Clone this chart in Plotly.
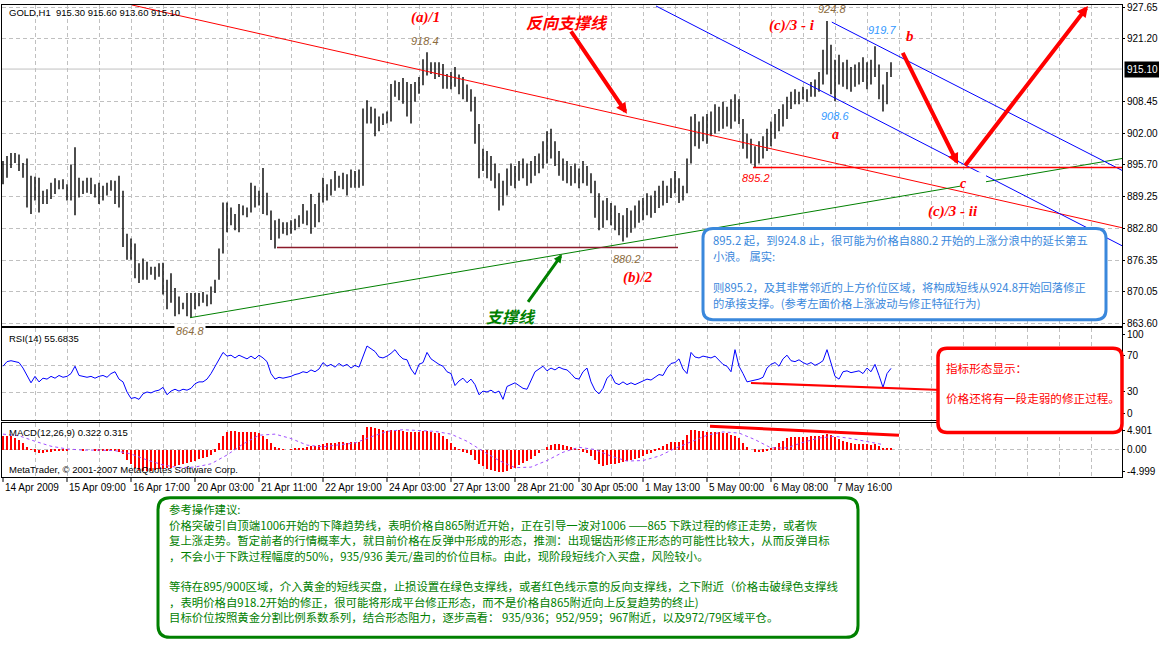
import plotly.graph_objects as go

W, H = 1159, 671

# ---------------- data ----------------
highs = [
    896.5, 897.5, 898.1, 898.1, 897.8, 896.1, 897.0, 893.5,
    893.3, 893.1, 890.5, 890.8, 892.1, 893.0, 892.6, 892.8,
    891.8, 895.8, 899.3, 893.1, 892.5, 893.1, 893.1, 891.8,
    892.1, 891.5, 892.1, 892.6, 892.5, 893.5, 890.5, 881.8,
    880.8, 879.8, 875.8, 876.8, 876.1, 875.1, 875.1, 875.8,
    875.9, 872.5, 873.8, 870.8, 869.1, 867.8, 869.8, 869.8,
    869.8, 869.8, 870.0, 869.5, 871.1, 872.5, 878.8, 888.1,
    888.1, 887.1, 885.8, 887.8, 887.5, 887.1, 892.1, 891.5,
    890.5, 895.1, 890.1, 886.5, 884.5, 884.8, 884.1, 884.1,
    884.5, 884.8, 885.5, 887.8, 886.5, 889.8, 887.8, 890.1,
    893.1, 891.8, 892.8, 894.5, 893.5, 894.1, 893.8, 894.8,
    894.5, 894.8, 907.1, 908.8, 907.5, 907.1, 905.5, 906.1,
    906.5, 912.1, 912.8, 912.5, 913.3, 912.5, 912.1, 912.5,
    913.5, 917.1, 918.5, 916.5, 916.5, 916.5, 916.1, 914.1,
    914.5, 915.5, 914.0, 913.5, 912.0, 911.0, 909.5, 904.0,
    899.0, 898.5, 897.5, 896.0, 894.0, 892.5, 895.0, 896.0,
    895.5, 896.5, 897.0, 896.0, 896.5, 897.5, 898.0, 900.5,
    902.5, 903.0, 900.5, 898.5, 897.0, 896.5, 895.5, 896.0,
    895.0, 896.5, 895.5, 894.0, 892.5, 890.0, 888.5, 889.0,
    888.0, 887.5, 886.0, 885.5, 887.0, 886.5, 887.5, 888.5,
    889.0, 890.0, 889.5, 890.5, 891.5, 892.5, 891.5, 893.0,
    894.5, 893.0, 891.5, 897.0, 905.5, 906.0, 904.5, 905.5,
    906.0, 906.5, 908.0, 907.5, 908.5, 907.5, 909.0, 910.0,
    909.0, 905.0, 902.0, 901.0, 899.5, 900.5, 901.5, 903.0,
    904.5, 906.0, 907.0, 908.0, 909.5, 910.5, 911.0, 910.5,
    911.5, 911.0, 912.5, 913.0, 914.5, 919.0, 924.8, 920.0,
    917.0, 918.0, 916.5, 917.0, 915.5, 916.0, 916.5, 917.5,
    916.5, 917.0, 919.7, 916.0, 912.0, 914.5, 916.5,
]
lows = [
    891.8, 893.1, 895.1, 896.1, 894.5, 893.1, 887.1, 885.8,
    888.5, 886.1, 887.8, 887.8, 888.8, 889.8, 890.8, 890.8,
    888.5, 888.5, 885.5, 889.1, 889.8, 890.1, 889.8, 889.1,
    887.8, 888.5, 889.5, 890.5, 887.8, 887.1, 879.1, 876.5,
    876.5, 872.8, 871.8, 872.5, 872.5, 873.5, 872.5, 873.1,
    869.5, 866.5, 867.8, 865.1, 865.5, 866.5, 865.1, 864.8,
    866.5, 867.1, 867.8, 867.1, 867.5, 869.8, 872.5, 877.8,
    882.1, 883.5, 882.5, 882.1, 885.5, 885.1, 886.1, 887.1,
    887.5, 885.8, 885.5, 880.5, 878.8, 880.8, 881.8, 881.5,
    881.8, 882.5, 883.1, 883.8, 883.5, 881.8, 883.1, 884.1,
    888.1, 888.5, 889.5, 890.5, 891.1, 890.8, 889.5, 891.1,
    891.1, 891.1, 891.5, 904.1, 904.1, 901.5, 902.5, 903.8,
    904.1, 904.5, 909.5, 908.8, 908.1, 905.5, 904.1, 908.5,
    910.1, 911.8, 913.8, 914.1, 913.1, 913.5, 911.1, 911.1,
    911.0, 911.5, 910.0, 909.0, 908.5, 906.5, 900.0, 893.0,
    894.5, 893.0, 892.5, 891.0, 886.5, 887.5, 889.5, 891.5,
    891.0, 892.5, 893.0, 891.5, 892.0, 893.5, 894.0, 895.0,
    896.0, 897.0, 895.5, 893.5, 892.5, 892.0, 891.5, 892.0,
    891.0, 892.0, 891.5, 890.0, 885.0, 882.5, 883.0, 884.5,
    883.5, 882.5, 881.5, 880.2, 881.0, 882.0, 883.0, 884.0,
    884.5, 885.5, 885.0, 886.0, 887.0, 887.5, 888.0, 889.0,
    890.0, 888.0, 888.5, 890.0, 896.0, 899.5, 899.0, 900.5,
    900.0, 901.5, 902.0, 902.5, 903.0, 903.5, 903.0, 904.5,
    904.0, 899.0, 897.0, 896.0, 895.2, 896.0, 897.0, 898.5,
    899.5, 901.0, 902.5, 903.5, 905.0, 907.0, 908.0, 908.0,
    909.0, 908.5, 909.5, 909.5, 910.5, 912.0, 914.0, 910.0,
    908.6, 912.0, 911.5, 911.0, 910.5, 911.5, 912.0, 912.5,
    911.0, 912.0, 913.5, 909.0, 906.5, 908.0, 913.5,
]
rsi = [
    58, 63, 64, 63, 62, 56, 48, 40,
    47, 41, 45, 44, 47, 45, 48, 46,
    47, 50, 58, 48, 47, 46, 47, 45,
    47, 48, 46, 50, 52, 44, 41, 30,
    23, 24, 22, 28, 30, 29, 31, 32,
    35, 27, 31, 33, 31, 33, 32, 34,
    39, 41, 41, 44, 50, 58, 65, 73,
    69, 70, 67, 70, 68, 66, 69, 66,
    70, 67, 63, 50, 44, 46, 45, 46,
    47, 49, 50, 52, 51, 54, 52, 55,
    62, 58, 60, 57, 61, 58, 60, 56,
    59, 57, 68, 80, 77, 74, 68, 67,
    69, 72, 76, 70, 66, 65, 55, 49,
    60, 62, 73, 66, 63, 60, 58, 52,
    50, 37, 42, 45, 40, 44, 38, 27,
    31, 30, 32, 29, 31, 22, 36, 38,
    40, 37, 34, 33, 42, 52, 55, 58,
    53, 56, 54, 57, 55, 54, 50, 45,
    44, 52, 56, 41, 32, 28, 34, 45,
    49, 40, 38, 41, 38, 40, 38, 40,
    42, 44, 43, 46, 49, 48, 56, 61,
    62, 66, 55, 50, 73, 68, 67, 69,
    68, 67, 69, 64, 60, 58, 52, 76,
    58, 50, 41, 42, 43, 44, 46, 56,
    60, 62, 58, 66, 70, 64, 63, 65,
    62, 60, 62, 59, 61, 64, 76, 60,
    47, 44, 52, 53, 51, 52, 53, 50,
    56, 52, 60, 48, 35, 50, 55.68,
]
macd_hist = [
    2.5, 2.6, 2.5, 2.2, 1.8, 1.3, 0.6, 0.1,
    -0.3, -0.5, -0.5, -0.4, -0.3, -0.2, -0.2, -0.1,
    -0.1, 0.0, 0.1, 0.0, -0.1, 0.0, 0.0, -0.1,
    -0.1, -0.1, -0.2, -0.2, -0.1, -0.3, -0.8, -1.8,
    -2.6, -3.2, -3.6, -3.8, -3.9, -3.8, -3.7, -3.5,
    -3.4, -3.3, -3.2, -3.0, -2.8, -2.6, -2.4, -2.2,
    -2.0, -1.7, -1.5, -1.2, -0.9, -0.3, 1.2, 2.6,
    3.2, 3.4, 3.4, 3.3, 3.3, 3.2, 3.3, 3.2,
    3.0, 2.6, 2.0, 1.2, 0.5, 0.2, 0.1, 0.0,
    0.1, 0.2, 0.3, 0.4, 0.6, 0.7, 0.8, 0.9,
    1.1, 1.2, 1.3, 1.3, 1.4, 1.4, 1.3, 1.4,
    1.4, 1.5, 2.8, 4.1, 4.2, 4.0, 3.8, 3.6,
    3.4, 3.6, 3.7, 3.6, 3.5, 3.3, 3.2, 3.2,
    3.3, 3.5, 3.4, 3.2, 3.1, 3.0, 2.6, 2.0,
    1.3, 0.6, 0.1, -0.3, -0.6, -1.0, -1.8, -2.6,
    -3.0, -3.4, -3.7, -3.9, -4.1, -4.0, -3.8, -3.5,
    -3.2, -2.8, -2.4, -2.0, -1.6, -1.1, -0.6, 0.0,
    0.5, 0.9, 1.1, 1.0, 0.9, 0.8, 0.6, 0.3,
    0.1, -0.3, -0.6, -1.1, -1.8, -2.5, -2.9, -2.8,
    -2.6, -2.5, -2.4, -2.2, -2.1, -1.9, -1.7, -1.4,
    -1.1, -0.8, -0.5, -0.2, 0.2, 0.7, 1.1, 1.4,
    1.5, 1.4, 1.8, 2.8, 3.6, 3.6, 3.5, 3.4,
    3.3, 3.3, 3.2, 3.2, 3.1, 3.0, 2.8, 2.6,
    2.1, 1.3, 0.6, 0.0, -0.3, -0.4, -0.3, -0.2,
    0.2, 0.6, 1.2, 1.7, 2.1, 2.3, 2.4, 2.4,
    2.3, 2.4, 2.5, 2.5, 2.6, 2.7, 2.9, 2.7,
    2.3, 2.0, 1.7, 1.4, 1.2, 1.0, 1.0, 1.1,
    1.0, 0.9, 1.0, 0.7, 0.4, 0.3, 0.3,
]
# signal line sampled every 4 bars
macd_signal = [
    2.8, 2.5, 1.5, 0.6, 0.1, -0.1, -0.1, -0.2,
    -0.8, -1.9, -2.8, -3.3, -3.2, -2.6, -1.0, 1.0,
    2.6, 2.8, 2.0, 0.8, 0.5, 0.9, 1.2, 2.3,
    3.3, 3.6, 3.4, 3.3, 2.8, 1.5, -0.3, -2.0,
    -3.3, -3.2, -2.0, -0.5, 0.4, 0.0, -1.2, -2.1,
    -2.0, -1.2, 0.2, 1.4, 2.6, 3.2, 3.0, 1.8,
    0.3, 0.3, 1.3, 2.1, 2.4, 2.0, 1.4, 0.9,
]
date_labels = ["14 Apr 2009", "15 Apr 09:00", "16 Apr 17:00", "20 Apr 03:00",
               "21 Apr 11:00", "22 Apr 19:00", "24 Apr 03:00", "27 Apr 13:00",
               "28 Apr 21:00", "30 Apr 05:00", "1 May 13:00", "5 May 00:00",
               "6 May 08:00", "7 May 16:00"]
price_ticks = [927.65, 921.20, 908.45, 902.00, 895.70, 889.25, 882.80, 876.35, 870.05, 863.60]
last_price = 915.10
rsi_labels = ["100", "70", "30", "0"]
rsi_label_at = [92.5, 70, 30, 6.5]      # MT4 pulls the edge labels inside the window
rsi_grid = [29, 59]
macd_labels = ["4.901", "0.00", "-4.999"]
macd_label_at = [3.46, 0.0, -3.92]

# trend-line anchors: (bar index list, value list)
red_trend_x, red_trend_y = [32.25, 279.75], [928.06, 883.0]
green_trend_x, green_trend_y = [46.75, 279.75], [864.8, 897.0]
blue_upper_x, blue_upper_y = [207.2, 279.75], [924.6, 894.6]
blue_lower_x, blue_lower_y = [163.25, 279.75], [927.86, 879.36]
sup_880_x, sup_880_y = [68.5, 168.75], [879.0, 879.0]
sup_895_x, sup_895_y = [187.5, 279.75], [895.2, 895.2]
rsi_trend_x, rsi_trend_y = [187.0, 234.75], [39.8, 32.3]
macd_trend_x, macd_trend_y = [176.75, 224.0], [4.23, 2.61]

# ---------------- helpers ----------------
def px(x):
    return x / W

def py(y):
    return 1 - y / H

XR = [-0.25, 279.75]
XD = [px(2), px(1122)]
GRID = "#c0c0c0"
DASH = "4px,3px"
SANS = "Liberation Sans"
CJK = "Noto Sans CJK SC"
SERIF = "Liberation Serif"

fig = go.Figure()

# price bars
bx, byv = [], []
for i, (h, l) in enumerate(zip(highs, lows)):
    bx += [i, i, None]
    byv += [l, h, None]
fig.add_trace(go.Scatter(x=bx, y=byv, mode="lines", line=dict(color="black", width=1.4),
                         xaxis="x", yaxis="y", hoverinfo="skip"))

def tline(xs, ys, color, width, xa="x", ya="y"):
    fig.add_trace(go.Scatter(x=xs, y=ys, mode="lines", line=dict(color=color, width=width),
                             xaxis=xa, yaxis=ya, hoverinfo="skip"))

tline(red_trend_x, red_trend_y, "#ff0000", 1)
tline(green_trend_x, green_trend_y, "#008000", 1)
tline(blue_upper_x, blue_upper_y, "#0000ff", 1)
tline(blue_lower_x, blue_lower_y, "#0000ff", 1)
tline(sup_880_x, sup_880_y, "#8b1a2a", 1.5)
tline(sup_895_x, sup_895_y, "#ff0000", 1.5)

# RSI
fig.add_trace(go.Scatter(x=list(range(len(rsi))), y=rsi, mode="lines",
                         line=dict(color="#0000ff", width=1), xaxis="x2", yaxis="y2", hoverinfo="skip"))
tline(rsi_trend_x, rsi_trend_y, "#ff0000", 2, "x2", "y2")

# MACD
fig.add_trace(go.Bar(x=list(range(len(macd_hist))), y=macd_hist, width=0.5,
                     marker=dict(color="#ff0000", line=dict(width=0)), xaxis="x3", yaxis="y3", hoverinfo="skip"))
fig.add_trace(go.Scatter(x=list(range(0, 4 * len(macd_signal), 4)), y=macd_signal, mode="lines",
                         line=dict(color="#a050ff", width=1, dash="dot"), xaxis="x3", yaxis="y3", hoverinfo="skip"))
tline(macd_trend_x, macd_trend_y, "#ff0000", 3, "x3", "y3")

vgrid = list(range(8, 280, 8))
xcommon = dict(domain=XD, range=XR, showticklabels=False, ticks="", tickvals=vgrid,
               showgrid=True, gridcolor=GRID, griddash=DASH, gridwidth=1,
               showline=True, mirror=True, linecolor="black", linewidth=1, zeroline=False, fixedrange=True)
yfont = dict(family=SANS, size=10, color="black")

fig.update_layout(
    width=W, height=H, margin=dict(l=0, r=0, t=0, b=0),
    paper_bgcolor="white", plot_bgcolor="white", showlegend=False, hovermode=False,
    font=dict(family=SANS, size=10, color="black"),
    xaxis=dict(xcommon, anchor="y"),
    xaxis2=dict(xcommon, anchor="y2", matches="x"),
    xaxis3=dict(xcommon, anchor="y3", matches="x"),
    yaxis=dict(domain=[py(326), py(2)], range=[863.2, 928.064], side="right",
               tickvals=price_ticks, ticktext=[f"{v:.2f}" for v in price_ticks],
               ticks="outside", ticklen=2, tickcolor="black", tickfont=yfont,
               ticklabeloverflow="allow",
               showgrid=True, gridcolor=GRID, griddash=DASH,
               showline=True, mirror=True, linecolor="black", zeroline=False, anchor="x"),
    yaxis2=dict(domain=[py(421), py(328)], range=[0, 100], side="right",
                tickvals=rsi_label_at, ticktext=rsi_labels, ticks="outside", ticklen=2,
                tickcolor="black", tickfont=yfont, ticklabeloverflow="allow", showgrid=False,
                minor=dict(tickvals=rsi_grid, showgrid=True, gridcolor=GRID, griddash=DASH, ticks=""),
                showline=True, mirror=True, linecolor="black", zeroline=False, anchor="x2"),
    yaxis3=dict(domain=[py(479), py(424)], range=[-4.999, 4.901], side="right",
                tickvals=macd_label_at, ticktext=macd_labels, ticks="outside", ticklen=2,
                tickcolor="black", tickfont=yfont, ticklabeloverflow="allow", showgrid=False,
                minor=dict(tickvals=[0], showgrid=True, gridcolor=GRID, griddash=DASH, ticks=""),
                showline=True, mirror=True, linecolor="black", zeroline=False, anchor="x3"),
    bargap=0,
)

shapes = []
# bid line
shapes.append(dict(type="line", xref="x", yref="y", x0=XR[0], x1=XR[1], y0=last_price, y1=last_price,
                   line=dict(color=GRID, width=1), layer="below"))
# date tick marks
for k in range(len(date_labels)):
    shapes.append(dict(type="line", xref="x3", yref="paper", x0=16 * k, x1=16 * k,
                       y0=py(480), y1=py(484), line=dict(color="black", width=1)))
# gap near "c"
shapes.append(dict(type="rect", xref="paper", yref="paper", x0=px(960), x1=px(986), y0=py(187), y1=py(171),
                   fillcolor="white", line=dict(width=0), layer="above"))

def rrect(x0, y0, x1, y1, r, color, width=3):
    p = (f"M {px(x0 + r)},{py(y0)} L {px(x1 - r)},{py(y0)} Q {px(x1)},{py(y0)} {px(x1)},{py(y0 + r)} "
         f"L {px(x1)},{py(y1 - r)} Q {px(x1)},{py(y1)} {px(x1 - r)},{py(y1)} "
         f"L {px(x0 + r)},{py(y1)} Q {px(x0)},{py(y1)} {px(x0)},{py(y1 - r)} "
         f"L {px(x0)},{py(y0 + r)} Q {px(x0)},{py(y0)} {px(x0 + r)},{py(y0)} Z")
    return dict(type="path", xref="paper", yref="paper", path=p, fillcolor="white",
                line=dict(color=color, width=width), layer="above")

BLUE_T = "#3a88dc"
shapes.append(rrect(703, 228, 1106, 320, 10, BLUE_T))
shapes.append(rrect(938, 349, 1122, 434, 9, "#ff0000", 3.5))
shapes.append(rrect(158, 500, 858, 641, 12, "#008000"))
fig.update_layout(shapes=shapes)

ann = []

def txt(s, x, y, size=10, color="black", family=SANS, xanchor="left", yanchor="middle", **kw):
    ann.append(dict(text=s, x=px(x), y=py(y), xref="paper", yref="paper", showarrow=False,
                    font=dict(size=size, color=color, family=family), xanchor=xanchor, yanchor=yanchor, **kw))

def arrow(x0, y0, x1, y1, color, width):
    ann.append(dict(text="", x=px(x1), y=py(y1), xref="paper", yref="paper", ax=x0 - x1, ay=y0 - y1,
                    axref="pixel", ayref="pixel", showarrow=True, arrowhead=2, arrowsize=0.55,
                    arrowwidth=width, arrowcolor=color, standoff=0, startstandoff=0))

# header / indicator captions
txt("GOLD,H1  915.30 915.60 913.60 915.10", 7, 10, size=9.5)
txt("RSI(14) 55.6835", 7, 339, size=9.5)
txt("MACD(12,26,9) 0.322 0.315", 7, 434, size=9.5)
txt("MetaTrader, © 2001-2007 MetaQuotes Software Corp.", 7, 471, size=9.5)

# current price marker
txt(f"{last_price:.2f}", 1124, 67, color="white", bgcolor="black", borderpad=2)

# date labels
for k, lab in enumerate(date_labels):
    ann.append(dict(text=lab, x=16 * k, y=py(490), xref="x3", yref="paper", showarrow=False,
                    xanchor="left", yanchor="middle", font=dict(size=10, color="black", family=SANS)))

RED = "#ff0000"
BROWN = "#8b6b3d"
LBLUE = "#3399ff"

def wave(s, x, y, size=15, color=RED, family=SERIF):
    txt(f"<b><i>{s}</i></b>", x, y, size=size, color=color, family=family, xanchor="center")

wave("(a)/1", 425, 15)
wave("反向支撑线", 567, 19, size=16, family=CJK)
wave("(c)/3 - i", 792, 23)
wave("b", 910, 33)
wave("a", 835, 133, size=14)
wave("c", 963, 182, size=14)
wave("(c)/3 - ii", 953, 211)
wave("(b)/2", 638, 277)
wave("支撑线", 511, 316, size=16, color="#008000", family=CJK)

def pl(s, x, y, color):
    txt(f"<i>{s}</i>", x, y, size=11, color=color, xanchor="center")

pl("918.4", 425, 38, BROWN)
pl("924.8", 832, 6, BROWN)
pl("919.7", 882, 27, LBLUE)
pl("908.6", 835, 114, LBLUE)
pl("895.2", 756, 177, RED)
pl("880.2", 627, 259, BROWN)
txt("<i>864.8</i>", 190, 331, size=11, color=BROWN, xanchor="center", bgcolor="white", borderpad=1)

# arrows
arrow(570, 28, 627, 112, RED, 4)
arrow(902, 50, 958, 163, RED, 4)
arrow(964, 164, 1088, 3, RED, 4)
arrow(527, 303, 562, 254, "#008000", 3)

# blue note
blue_lines = ["895.2 起，到924.8 止，很可能为价格自880.2 开始的上涨分浪中的延长第五",
              "小浪。 属实:",
              "则895.2，及其非常邻近的上方价位区域，将构成短线从924.8开始回落修正",
              "的承接支撑。(参考左面价格上涨波动与修正特征行为)"]
for s, yy in zip(blue_lines, [240, 256, 287, 303]):
    txt(s, 711, yy, size=11.3, color=BLUE_T, family=CJK)

# red note
txt("指标形态显示：", 944, 369, size=11.6, color=RED, family=CJK)
txt("价格还将有一段走弱的修正过程。", 944, 399, size=11.6, color=RED, family=CJK)

# green note
green_lines = [
    "参考操作建议:",
    "价格突破引自顶端1006开始的下降趋势线，表明价格自865附近开始，正在引导一波对1006 ——865 下跌过程的修正走势，或者恢",
    "复上涨走势。暂定前者的行情概率大，就目前价格在反弹中形成的形态，推测：出现锯齿形修正形态的可能性比较大，从而反弹目标",
    "，不会小于下跌过程幅度的50%，935/936 美元/盎司的价位目标。由此，现阶段短线介入买盘，风险较小。",
    "等待在895/900区域，介入黄金的短线买盘，止损设置在绿色支撑线，或者红色线示意的反向支撑线，之下附近（价格击破绿色支撑线",
    "，表明价格自918.2开始的修正，很可能将形成平台修正形态，而不是价格自865附近向上反复趋势的终止)",
    "目标价位按照黄金分割比例系数系列，结合形态阻力，逐步高看： 935/936；952/959；967附近，以及972/79区域平仓。",
]
for s, yy in zip(green_lines, [511, 527, 543, 559, 589, 605, 620]):
    txt(s, 167, yy, size=11.4, color="#008000", family=CJK)

fig.update_layout(annotations=ann)
fig.write_html("out.html")
